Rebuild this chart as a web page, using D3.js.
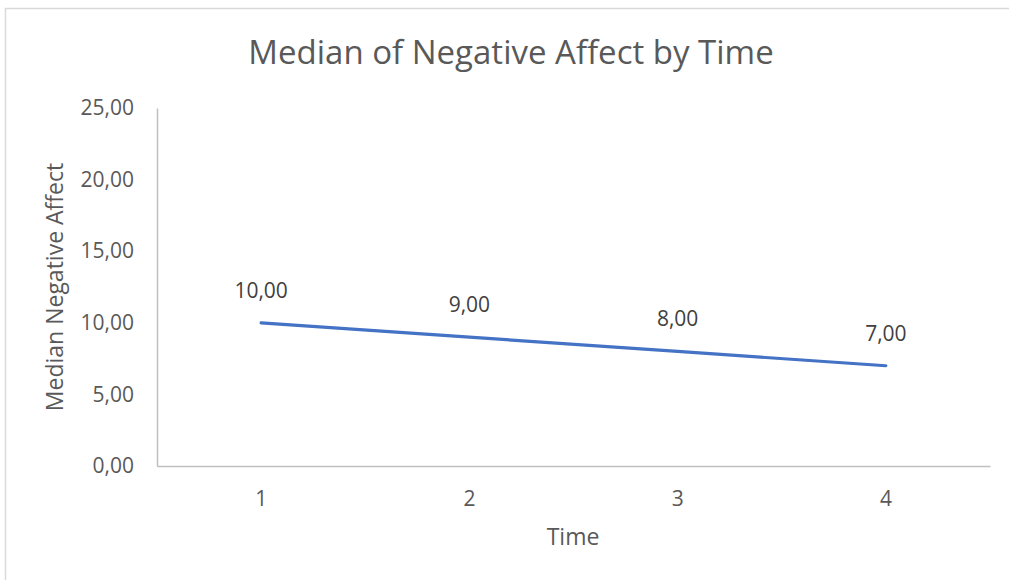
<!DOCTYPE html>
<html>
<head>
<meta charset="utf-8">
<script src="https://cdn.jsdelivr.net/npm/d3@7/dist/d3.min.js"></script>
<style>
  html, body { margin: 0; padding: 0; background: #fff; }
  svg { display: block; font-family: "Open Sans", "Noto Sans", sans-serif; }
</style>
</head>
<body>
<svg id="chart" width="1009" height="580"></svg>
<script>
// Median negative affect at each measurement time
const times = ["1", "2", "3", "4"];
const medians = [10, 9, 8, 7];
const yTicks = [0, 5, 10, 15, 20, 25];

const chartTitle = "Median of Negative Affect by Time";
const xTitle = "Time";
const yTitle = "Median Negative Affect";

const FONT = '"Open Sans", "Noto Sans", sans-serif';
const svg = d3.select("#chart");
const W = 1009, H = 580;
const plot = { left: 157, right: 990, top: 108, bottom: 466 };

// comma decimal separator, two decimals
const fmt = v => d3.format(".2f")(v).replace(".", ",");

// outer chart border (left and top edges fall inside the view)
svg.append("rect")
  .attr("x", 5.5).attr("y", 8.5)
  .attr("width", W + 20).attr("height", H + 20)
  .attr("fill", "#fff").attr("stroke", "#d9d9d9").attr("stroke-width", 1.5);

const x = d3.scaleBand().domain(times).range([plot.left, plot.right]);
const y = d3.scaleLinear().domain([0, 25]).range([plot.bottom, plot.top]);

// y axis: line + labels
const yAxis = svg.append("g")
  .attr("transform", `translate(${plot.left},0)`)
  .call(d3.axisLeft(y).tickValues(yTicks).tickFormat(fmt).tickSize(0).tickPadding(23));
yAxis.attr("font-family", FONT).attr("font-size", 21);
yAxis.select(".domain").attr("stroke", "#bfbfbf").attr("stroke-width", 1.5);
yAxis.selectAll("text").attr("fill", "#595959");

// x axis
const xAxis = svg.append("g")
  .attr("transform", `translate(0,${plot.bottom})`)
  .call(d3.axisBottom(x).tickSize(0).tickPadding(25));
xAxis.attr("font-family", FONT).attr("font-size", 21);
xAxis.select(".domain").attr("stroke", "#bfbfbf").attr("stroke-width", 1.5);
xAxis.selectAll("text").attr("fill", "#595959");

// series line
const line = d3.line()
  .x((d, i) => x(times[i]) + x.bandwidth() / 2)
  .y(d => y(d));
svg.append("path")
  .datum(medians)
  .attr("d", line)
  .attr("fill", "none")
  .attr("stroke", "#4472c4")
  .attr("stroke-width", 3.2)
  .attr("stroke-linecap", "round");

// data labels above each point
svg.append("g").selectAll("text")
  .data(medians)
  .join("text")
  .attr("x", (d, i) => x(times[i]) + x.bandwidth() / 2)
  .attr("y", d => y(d) - 25)
  .attr("text-anchor", "middle")
  .attr("fill", "#404040")
  .style("font-size", "21px")
  .text(fmt);

// titles
svg.append("text")
  .attr("x", 511).attr("y", 64)
  .attr("text-anchor", "middle")
  .attr("fill", "#595959")
  .style("font-size", "33px")
  .text(chartTitle);

svg.append("text")
  .attr("x", 573).attr("y", 545)
  .attr("text-anchor", "middle")
  .attr("fill", "#595959")
  .style("font-size", "23px")
  .text(xTitle);

svg.append("text")
  .attr("transform", "translate(63,287) rotate(-90)")
  .attr("text-anchor", "middle")
  .attr("fill", "#595959")
  .style("font-size", "23px")
  .text(yTitle);
</script>
</body>
</html>
